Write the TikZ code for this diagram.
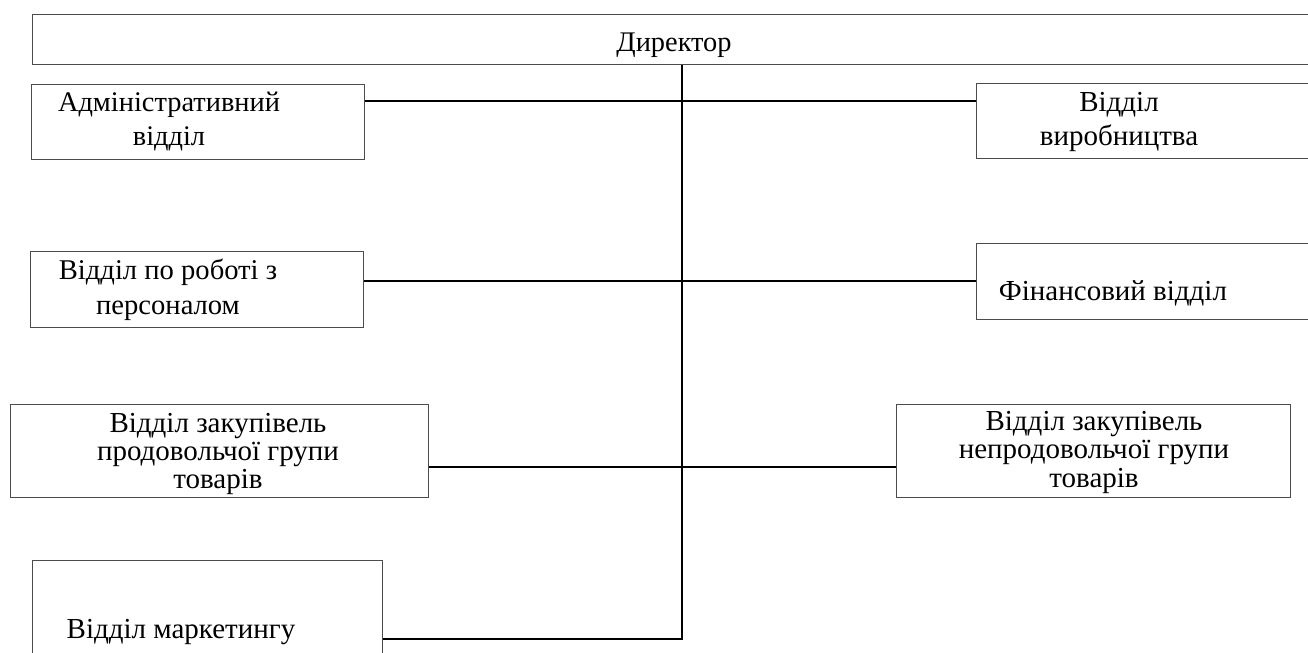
\documentclass[tikz,border=0pt]{standalone}
\usepackage{fontspec}
\setmainfont{Liberation Serif}

\tikzset{
  dept/.style={draw=black!70,line width=0.6pt,inner sep=0pt,anchor=north west},
  deptname/.style={inner sep=0pt,align=center,anchor=base,font=\fontsize{14.5}{14.25}\selectfont},
  link/.style={-,line width=1pt}
}

\begin{document}
\begin{tikzpicture}[x=0.5pt,y=-0.5pt]
\useasboundingbox (0,0) rectangle (1308,653);

\node [dept,minimum width=649pt,minimum height=25pt] (dir) at (32,14) {};
\node [deptname,font=\fontsize{14.2}{15}\selectfont] (dir-t) at (674,51) {Директор};

%%%%%%%%%%%%%%%%%%%%%%%%%%%%
\node [dept,minimum width=166.5pt,minimum height=37.5pt] (admin) at (31,84) {};
\node [deptname,font=\fontsize{14.2}{17}\selectfont] (admin-t) at (169,145) {Адміністративний\\відділ};
\node [dept,minimum width=177pt,minimum height=37.5pt] (prod) at (976,83) {};
\node [deptname,font=\fontsize{14.5}{17}\selectfont] (prod-t) at (1119,145) {Відділ\\виробництва};
\draw [link] ([yshift=-8.5pt]admin.north east) -- ([yshift=-9pt]prod.north west);

%%%%%%%%%%%%%%%%%%%%%%%%%%%%
\node [dept,minimum width=166.5pt,minimum height=38pt] (pers) at (30,251) {};
\node [deptname,font=\fontsize{14.3}{17.5}\selectfont] (pers-t) at (168,314) {Відділ по роботі з\\персоналом};
\node [dept,minimum width=177pt,minimum height=38pt] (fin) at (976,243) {};
\node [deptname] (fin-t) at (1113,300) {Фінансовий відділ};
\draw [link] ([yshift=-15pt]pers.north east) -- ([yshift=-19pt]fin.north west);

%%%%%%%%%%%%%%%%%%%%%%%%%%%%
\node [dept,minimum width=209pt,minimum height=46.5pt] (food) at (10,404) {};
\node [deptname,font=\fontsize{14.5}{14}\selectfont] (food-t) at (218,488) {Відділ закупівель\\продовольчої групи\\товарів};
\node [dept,minimum width=197pt,minimum height=46.5pt] (nonfood) at (896,404) {};
\node [deptname] (nonfood-t) at (1094,487) {Відділ закупівель\\непродовольчої групи\\товарів};
\draw [link] ([yshift=-31.5pt]food.north east) -- ([yshift=-31.5pt]nonfood.north west);

%%%%%%%%%%%%%%%%%%%%%%%%%%%%
\node [dept,minimum width=175pt,minimum height=55pt] (mkt) at (32,560) {};
\node [deptname] (mkt-t) at (181,638) {Відділ маркетингу};
\coordinate (mkt-in) at ([yshift=-39.5pt]mkt.north east);
\draw [link] (mkt-in) -- (dir.south |- mkt-in) -- (dir.south);

\end{tikzpicture}
\end{document}
